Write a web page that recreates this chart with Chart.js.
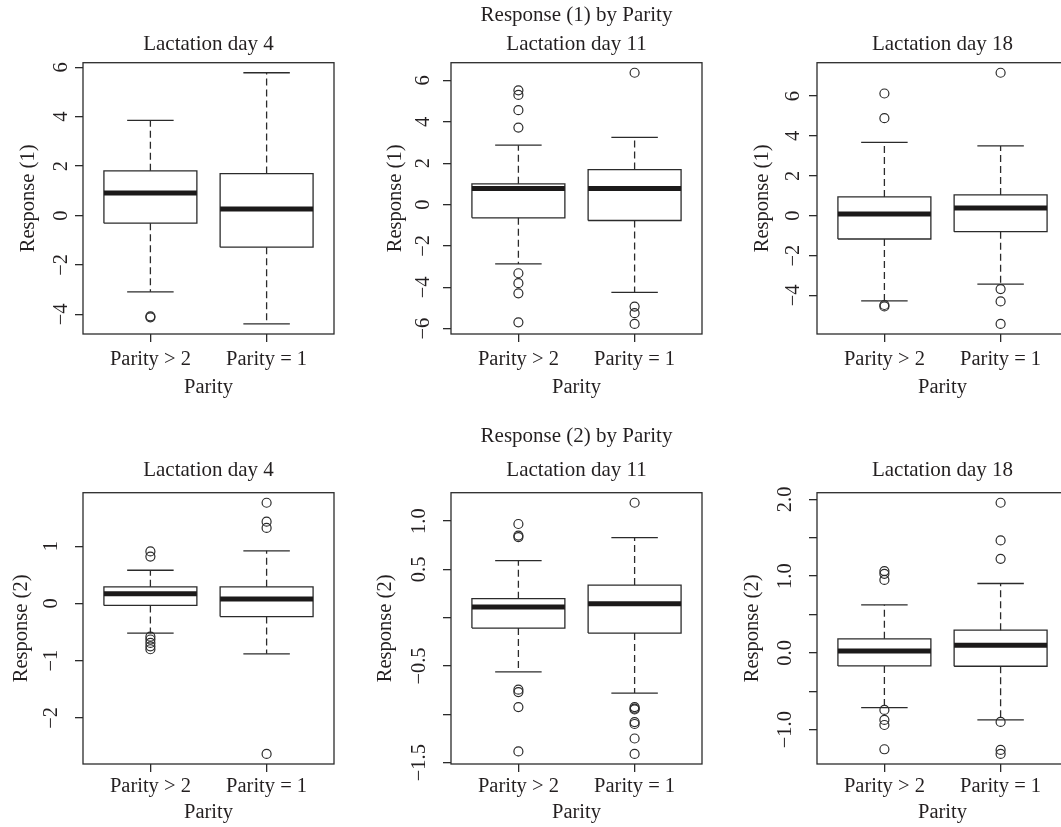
<!DOCTYPE html>
<html>
<head>
<meta charset="utf-8">
<script src="https://cdn.jsdelivr.net/npm/chart.js@4.4.1/dist/chart.umd.min.js"></script>
<style>
  html, body { margin: 0; padding: 0; background: #fff; }
  body { width: 1061px; height: 827px; position: relative; overflow: hidden; }
  .panel { position: absolute; }
</style>
</head>
<body>
<div class="panel" id="p0"><canvas id="c0"></canvas></div>
<div class="panel" id="p1"><canvas id="c1"></canvas></div>
<div class="panel" id="p2"><canvas id="c2"></canvas></div>
<div class="panel" id="p3"><canvas id="c3"></canvas></div>
<div class="panel" id="p4"><canvas id="c4"></canvas></div>
<div class="panel" id="p5"><canvas id="c5"></canvas></div>
<script>
// groups on the x axis
const groups = ['Parity > 2', 'Parity = 1'];

// box stats per group: [lower whisker, Q1, median, Q3, upper whisker]
const resp1Day4 = [[-3.09, -0.31, 0.91, 1.81, 3.85], [-4.39, -1.28, 0.26, 1.70, 5.78]];
const resp1Day4Out = [[-4.08, -4.12], []];
const resp1Day11 = [[-2.87, -0.64, 0.77, 1.00, 2.87], [-4.24, -0.77, 0.77, 1.69, 3.25]];
const resp1Day11Out = [[5.52, 5.30, 4.56, 3.72, -3.32, -3.80, -4.29, -5.69], [6.37, -4.93, -5.25, -5.77]];
const resp1Day18 = [[-4.27, -1.17, 0.09, 0.94, 3.68], [-3.43, -0.80, 0.39, 1.04, 3.50]];
const resp1Day18Out = [[6.13, 4.89, -4.48, -4.55], [7.17, -3.68, -4.30, -5.43]];

const resp2Day4 = [[-0.52, -0.035, 0.17, 0.29, 0.58], [-0.88, -0.23, 0.08, 0.29, 0.92]];
const resp2Day4Out = [[0.91, 0.82, -0.58, -0.63, -0.69, -0.75, -0.80], [1.76, 1.43, 1.32, -2.63]];
const resp2Day11 = [[-0.56, -0.107, 0.11, 0.197, 0.59], [-0.78, -0.159, 0.145, 0.338, 0.83]];
const resp2Day11Out = [[0.97, 0.85, 0.835, -0.745, -0.77, -0.925, -1.384], [1.19, -0.925, -0.94, -0.95, -1.08, -1.10, -1.25, -1.41]];
const resp2Day18 = [[-0.713, -0.17, 0.026, 0.183, 0.626], [-0.874, -0.174, 0.10, 0.296, 0.904]];
const resp2Day18Out = [[1.066, 1.03, 0.95, -0.743, -0.874, -0.94, -1.256], [1.956, 1.465, 1.226, -0.90, -1.265, -1.317]];

// y axis ticks and their labels (R drops some labels)
const ticksR1 = [-4, -2, 0, 2, 4, 6];
const labelsR1 = ['\u22124', '\u22122', '0', '2', '4', '6'];
const ticksR1Day11 = [-6, -4, -2, 0, 2, 4, 6];
const labelsR1Day11 = ['\u22126', '\u22124', '\u22122', '0', '2', '4', '6'];
const ticksR2Day4 = [-2, -1, 0, 1];
const labelsR2Day4 = ['\u22122', '\u22121', '0', '1'];
const ticksR2Day11 = [-1.5, -1.0, -0.5, 0, 0.5, 1.0];
const labelsR2Day11 = ['\u22121.5', '', '\u22120.5', '', '0.5', '1.0'];
const ticksR2Day18 = [-1.0, -0.5, 0, 0.5, 1.0, 1.5, 2.0];
const labelsR2Day18 = ['\u22121.0', '', '0.0', '', '1.0', '', '2.0'];

const panels = [
  { stats: resp1Day4, out: resp1Day4Out, ticks: ticksR1, labels: labelsR1, sub: 'Lactation day 4', ylab: 'Response (1)', row: 0, col: 0 },
  { stats: resp1Day11, out: resp1Day11Out, ticks: ticksR1Day11, labels: labelsR1Day11, main: 'Response (1) by Parity', sub: 'Lactation day 11', ylab: 'Response (1)', row: 0, col: 1 },
  { stats: resp1Day18, out: resp1Day18Out, ticks: ticksR1, labels: labelsR1, sub: 'Lactation day 18', ylab: 'Response (1)', row: 0, col: 2 },
  { stats: resp2Day4, out: resp2Day4Out, ticks: ticksR2Day4, labels: labelsR2Day4, sub: 'Lactation day 4', ylab: 'Response (2)', row: 1, col: 0 },
  { stats: resp2Day11, out: resp2Day11Out, ticks: ticksR2Day11, labels: labelsR2Day11, main: 'Response (2) by Parity', sub: 'Lactation day 11', ylab: 'Response (2)', row: 1, col: 1 },
  { stats: resp2Day18, out: resp2Day18Out, ticks: ticksR2Day18, labels: labelsR2Day18, sub: 'Lactation day 18', ylab: 'Response (2)', row: 1, col: 2 }
];

// layout (pixels)
const plotLeft = [83.3, 450.7, 817.3];
const plotW = 251;
const plotTop = [62.7, 492.7];
const plotBottom = [334, 764];
const canvasTop = [0, 410];
const mainY = [15, 436.7];
const subY = [44, 470.7];
const xTickY = [360, 786.7];
const xTitleY = [388, 812.3];
const yTickOff = [[21.6, 27, 23], [31, 31.7, 31.6]];
const yTitleOff = [[54.3, 55.7, 54.6], [61.6, 65.7, 64]];
const AXW = 80, XAH = 72, TL = 8, PADR = 12;

const ink = '#231f20';
const lineCol = '#2b2b2b';
const medCol = '#1c1a1a';
const family = '"Liberation Serif", "DejaVu Serif", serif';
const tickSize = 20.5, titleSize = 21;
const tickLH = tickSize * 1.2, titleLH = titleSize * 1.2;

const mctx = document.createElement('canvas').getContext('2d');
mctx.font = tickSize + 'px ' + family;

// frame around the plot region, like R's box()
const framePlugin = {
  id: 'frame',
  afterDraw(chart) {
    const a = chart.chartArea, ctx = chart.ctx;
    ctx.save();
    ctx.strokeStyle = lineCol;
    ctx.lineWidth = 1.3;
    ctx.strokeRect(a.left, a.top, a.right - a.left, a.bottom - a.top);
    ctx.restore();
  }
};

function seg(data, width, dash, order, color) {
  return {
    type: 'line', data: data, showLine: true, borderColor: color || lineCol, borderWidth: width,
    borderDash: dash || [], borderCapStyle: 'butt', pointRadius: 0, order: order, spanGaps: false
  };
}

panels.forEach((p, k) => {
  const L = plotLeft[p.col], r = p.row;
  const left = L - AXW, top = canvasTop[r];
  const width = AXW + plotW + PADR;
  const height = plotBottom[r] + XAH - top;
  const div = document.getElementById('p' + k);
  div.style.left = left + 'px';
  div.style.top = top + 'px';
  div.style.width = width + 'px';
  div.style.height = height + 'px';

  const all = p.stats.flat().concat(p.out.flat());
  const lo = Math.min(...all), hi = Math.max(...all);
  const ext = (hi - lo) * 0.04;

  const datasets = [];
  p.stats.forEach((s, i) => {
    const x = i + 1;
    const [wlo, q1, med, q3, whi] = s;
    datasets.push(seg([{ x: x - 0.4, y: med }, { x: x + 0.4, y: med }], 5, null, 0, medCol));
    datasets.push(seg([{ x: x - 0.4, y: q1 }, { x: x + 0.4, y: q1 }, { x: x + 0.4, y: q3 },
      { x: x - 0.4, y: q3 }, { x: x - 0.4, y: q1 }], 1.3, null, 1));
    datasets.push(seg([{ x: x, y: q3 }, { x: x, y: whi }], 1.3, [7, 4], 2));
    datasets.push(seg([{ x: x, y: q1 }, { x: x, y: wlo }], 1.3, [7, 4], 2));
    datasets.push(seg([{ x: x - 0.2, y: whi }, { x: x + 0.2, y: whi }], 1.3, null, 1));
    datasets.push(seg([{ x: x - 0.2, y: wlo }, { x: x + 0.2, y: wlo }], 1.3, null, 1));
    datasets.push({
      type: 'scatter', data: p.out[i].map(v => ({ x: x, y: v })), showLine: false,
      pointRadius: 4.5, pointBorderWidth: 1.2, pointBorderColor: lineCol,
      pointBackgroundColor: 'rgba(0,0,0,0)', order: 0
    });
  });

  const widest = Math.max(...p.labels.map(t => mctx.measureText(t).width));
  const yPad = Math.max(0, yTickOff[r][p.col] - TL - widest / 2);

  const titleFont = { family: family, size: titleSize, weight: 'normal' };
  const plugins = { legend: { display: false }, tooltip: { enabled: false } };
  if (p.main) {
    plugins.title = {
      display: true, fullSize: false, text: p.main, color: ink, font: titleFont,
      padding: { top: mainY[r] - top - titleLH / 2, bottom: subY[r] - mainY[r] - titleLH }
    };
    plugins.subtitle = {
      display: true, fullSize: false, text: p.sub, color: ink, font: titleFont,
      padding: { top: 0, bottom: plotTop[r] - subY[r] - titleLH / 2 }
    };
  } else {
    plugins.title = {
      display: true, fullSize: false, text: p.sub, color: ink, font: titleFont,
      padding: { top: subY[r] - top - titleLH / 2, bottom: plotTop[r] - subY[r] - titleLH / 2 }
    };
  }

  new Chart(document.getElementById('c' + k), {
    type: 'scatter',
    data: { datasets: datasets },
    options: {
      responsive: true,
      maintainAspectRatio: false,
      devicePixelRatio: 1,
      animation: false,
      events: [],
      layout: { padding: { left: 0, right: PADR, top: 0, bottom: 0 } },
      plugins: plugins,
      scales: {
        x: {
          type: 'linear', min: 0.42, max: 2.58,
          afterBuildTicks: s => { s.ticks = groups.map((g, i) => ({ value: i + 1 })); },
          afterFit: s => { s.height = XAH; s.paddingLeft = 0; s.paddingRight = 0; },
          ticks: {
            autoSkip: false, maxRotation: 0, color: ink,
            font: { family: family, size: tickSize },
            padding: xTickY[r] - plotBottom[r] - TL - tickLH / 2,
            callback: (v, i) => groups[i]
          },
          grid: { drawOnChartArea: false, drawTicks: true, tickLength: TL, color: lineCol, lineWidth: 1.3 },
          border: { display: false },
          title: {
            display: true, text: 'Parity', color: ink,
            font: { family: family, size: tickSize },
            padding: { top: 0, bottom: plotBottom[r] + XAH - xTitleY[r] - tickLH / 2 }
          }
        },
        y: {
          type: 'linear', min: lo - ext, max: hi + ext,
          afterBuildTicks: s => { s.ticks = p.ticks.map(v => ({ value: v })); },
          afterFit: s => { s.width = AXW; s.paddingTop = 0; s.paddingBottom = 0; },
          ticks: {
            autoSkip: false, minRotation: 90, maxRotation: 90, crossAlign: 'center', color: ink,
            font: { family: family, size: tickSize },
            padding: yPad,
            callback: (v, i) => p.labels[i]
          },
          grid: { drawOnChartArea: false, drawTicks: true, tickLength: TL, color: lineCol, lineWidth: 1.3 },
          border: { display: false },
          title: {
            display: true, text: p.ylab, color: ink,
            font: { family: family, size: tickSize },
            padding: { top: AXW - yTitleOff[r][p.col] - tickLH / 2, bottom: 0 }
          }
        }
      }
    },
    plugins: [framePlugin]
  });
});
</script>
</body>
</html>
